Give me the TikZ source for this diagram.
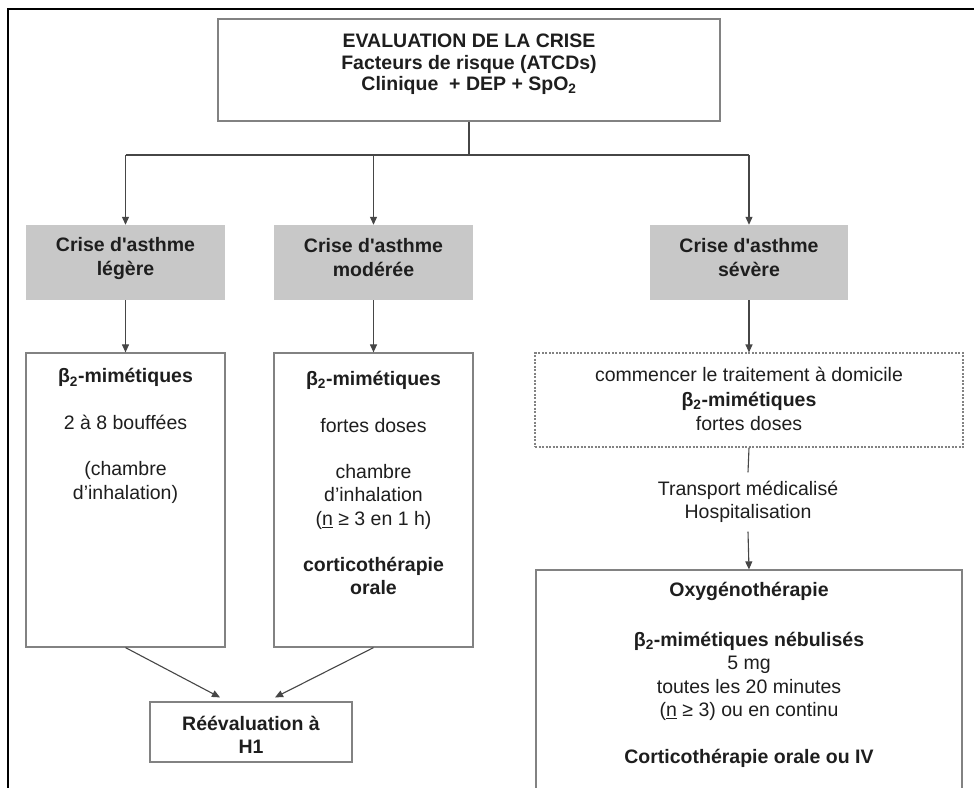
\documentclass[tikz,border=0pt]{standalone}
\usepackage{fontspec}
\setmainfont{Liberation Sans}[Ligatures=TeXOff]
\usetikzlibrary{arrows.meta}
\definecolor{boxline}{RGB}{130,130,130}
\definecolor{arrline}{RGB}{70,70,70}
\definecolor{greyfill}{RGB}{200,200,200}
\definecolor{txt}{RGB}{30,30,30}
\newcommand{\bmim}{β\textsubscript{2}-mimétiques}
\begin{document}
\begin{tikzpicture}[x=1pt,y=-1pt,
  boxw/.style={draw=boxline,line width=1.2pt,fill=white,inner sep=0pt},
  boxd/.style={draw=boxline,line width=1.1pt,dash pattern=on 2pt off 1.5pt,fill=white,inner sep=0pt},
  boxg/.style={draw=none,fill=greyfill,inner sep=0pt},
  txtnode/.style={text=txt,align=center,inner sep=0pt,font=\fontsize{19.5}{23.5}\selectfont},
  arr/.style={draw=arrline,line width=1.1pt,-{Triangle[width=7pt,length=8pt]}},
  ln/.style={draw=arrline,line width=1.1pt}]
\clip (0,0) rectangle (974,787);
\useasboundingbox (0,0) rectangle (974,787);
\fill[white] (0,0) rectangle (974,787);
% outer frame
\draw[black,line width=2.2pt] (8,800) -- (8,9) -- (980,9);

% top box
\node[boxw,minimum width=502pt,minimum height=102pt] (top) at (469,70) {};
\node[txtnode,font=\fontsize{19.5}{21.5}\selectfont\bfseries] (toptxt) at (469,64.5)
  {EVALUATION DE LA CRISE\\Facteurs de risque (ATCDs)\\Clinique \ + DEP + SpO\textsubscript{2}};

% grey boxes
\node[boxg,minimum width=199pt,minimum height=75pt] (g1) at (125.5,262.5) {};
\node[boxg,minimum width=199pt,minimum height=75pt] (g2) at (373.5,262.5) {};
\node[boxg,minimum width=198pt,minimum height=75pt] (g3) at (749,262.5) {};
\node[txtnode,font=\fontsize{19.5}{24}\selectfont\bfseries] (g1t) at (125.5,258) {Crise d'asthme\\légère};
\node[txtnode,font=\fontsize{19.5}{24}\selectfont\bfseries] (g2t) at (373.5,258) {Crise d'asthme\\modérée};
\node[txtnode,font=\fontsize{19.5}{24}\selectfont\bfseries] (g3t) at (749,258) {Crise d'asthme\\sévère};

% white boxes
\node[boxw,minimum width=199pt,minimum height=294pt] (w1) at (125.5,500) {};
\node[boxw,minimum width=199pt,minimum height=294pt] (w2) at (373.5,500) {};
\node[boxd,minimum width=428pt,minimum height=94pt] (d3) at (749,400) {};
\node[txtnode] (w1t) at (125.5,436)
  {\textbf{\bmim}\\[23.5pt]2 à 8 bouffées\\[22.5pt](chambre\\d’inhalation)};
\node[txtnode] (w2t) at (373.5,483)
  {\textbf{\bmim}\\[23.5pt]fortes doses\\[22.5pt]chambre\\d’inhalation\\(\underline{n} ≥ 3 en 1 h)\\[22.5pt]\textbf{corticothérapie}\\\textbf{orale}};
\node[txtnode,font=\fontsize{19.5}{24.5}\selectfont] (d3t) at (749,399)
  {commencer le traitement à domicile\\\textbf{\bmim}\\fortes doses};

% transport
\node[txtnode,inner ysep=8.5pt] (tr) at (748,502) {Transport médicalisé\\Hospitalisation};

% hospital box
\node[boxw,minimum width=426pt,minimum height=230pt] (ox) at (749,685) {};
\node[txtnode] (oxt) at (749,675)
  {\textbf{Oxygénothérapie}\\[26.5pt]\textbf{\bmim{} nébulisés}\\5 mg\\toutes les 20 minutes\\(\underline{n} ≥ 3) ou en continu\\[23.5pt]\textbf{Corticothérapie orale ou IV}};

% reevaluation
\node[boxw,minimum width=202pt,minimum height=60pt] (rev) at (251,732) {};
\node[txtnode,font=\fontsize{19.5}{22.5}\selectfont\bfseries] (revt) at (251,735) {Réévaluation à\\H1};

% connectors
\coordinate (jm) at (469,155);
\coordinate (jl) at (125.5,155);
\coordinate (jc) at (373.5,155);
\coordinate (jr) at (749,155);
\draw[ln] (top.south) -- (jm);
\draw[ln] (jl) -- (jr);
\draw[arr] (jl) -- (g1.north);
\draw[arr] (jc) -- (g2.north);
\draw[arr] (jr) -- (g3.north);
\draw[arr] (g1.south) -- (w1.north);
\draw[arr] (g2.south) -- (w2.north);
\draw[arr] (g3.south) -- (d3.north);
\draw[ln] (d3.south) -- (tr.north);
\draw[arr] (tr.south) -- (ox.north);
\draw[arr] (w1.south) -- ([xshift=-31pt,yshift=4pt]rev.north);
\draw[arr] (w2.south) -- ([xshift=24pt,yshift=4pt]rev.north);
\end{tikzpicture}
\end{document}
